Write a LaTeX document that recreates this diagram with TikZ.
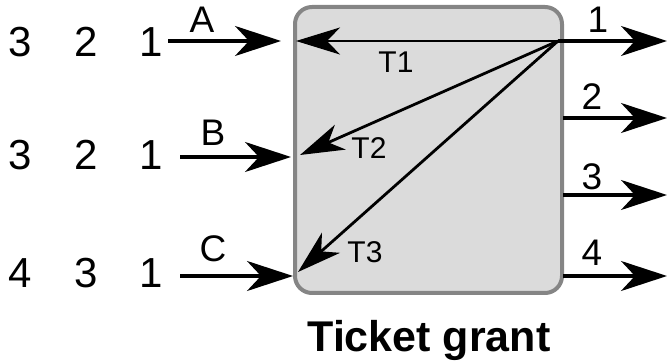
\documentclass[tikz,border=0pt]{standalone}
\usepackage{fontspec}
\setmainfont{Liberation Sans}
\usetikzlibrary{arrows.meta}
\tikzset{
  flow/.style={line width=3.2pt, -{Stealth[length=46pt,width=30pt,inset=14pt]}},
  fan/.style={line width=2.8pt, -{Stealth[length=44pt,width=27pt,inset=13pt]}},
  seq/.style={font=\fontsize{42}{42}\selectfont, inner sep=0pt},
  lbl/.style={font=\fontsize{37}{37}\selectfont, inner sep=0pt},
  tlbl/.style={font=\fontsize{30}{30}\selectfont, inner sep=0pt},
  grantbox/.style={draw=black!48, line width=4pt, fill=black!14, rounded corners=17pt,
    minimum width=267pt, minimum height=286pt, inner sep=0pt},
}
\begin{document}
\begin{tikzpicture}[x=1pt,y=-1pt]
\useasboundingbox (0,0) rectangle (667,363);
% ticket grant box and its caption
\node[grantbox] (tg) at (428.5,150) {};
\node[font=\bfseries\fontsize{43}{43}\selectfont, anchor=base, inner sep=0pt] (title) at (429,352) {Ticket grant};

% incoming sequences
\node[seq] (a3) at (20,42) {3};
\node[seq] (a2) at (86,42) {2};
\node[seq] (a1) at (151,42) {1};
\node[seq] (b3) at (20,155) {3};
\node[seq] (b2) at (86,155) {2};
\node[seq] (b1) at (151,155) {1};
\node[seq] (c4) at (20,273) {4};
\node[seq] (c3) at (86,273) {3};
\node[seq] (c1) at (151,273) {1};

\coordinate (ainS) at (168,41);  \coordinate (ainE) at (281,41);
\coordinate (binS) at (180,157); \coordinate (binE) at (291,157);
\coordinate (cinS) at (180,276); \coordinate (cinE) at (293,276);
\draw[flow] (ainS) -- (ainE);
\draw[flow] (binS) -- (binE);
\draw[flow] (cinS) -- (cinE);
\node[lbl] (la) at (202,20) {A};
\node[lbl] (lb) at (213,133) {B};
\node[lbl] (lc) at (213,249) {C};

% outgoing tickets
\coordinate (hub) at (558,41);
\coordinate (o1) at (667,41);
\coordinate (s2) at (563,118); \coordinate (o2) at (667,118);
\coordinate (s3) at (563,195); \coordinate (o3) at (667,195);
\coordinate (s4) at (563,276); \coordinate (o4) at (667,276);
\draw[flow] (hub) -- (o1);
\draw[flow] (s2) -- (o2);
\draw[flow] (s3) -- (o3);
\draw[flow] (s4) -- (o4);
\node[lbl] (n1) at (598,20) {1};
\node[lbl] (n2) at (592,97) {2};
\node[lbl] (n3) at (592,177) {3};
\node[lbl] (n4) at (592,253) {4};

% tickets handed back to each queue
\coordinate (t1) at (296,41);
\coordinate (t2) at (300,155);
\coordinate (t3) at (298,272);
\draw[fan] (hub) -- (t1);
\draw[fan] (hub) -- (t2);
\draw[fan] (hub) -- (t3);
\node[tlbl] (lt1) at (396,62) {T1};
\node[tlbl] (lt2) at (369,148) {T2};
\node[tlbl] (lt3) at (365,252) {T3};
\end{tikzpicture}
\end{document}
